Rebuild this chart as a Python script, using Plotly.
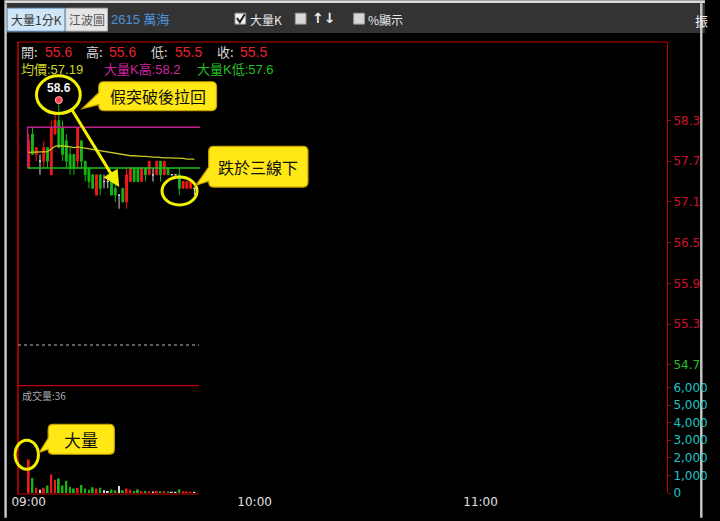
import plotly.graph_objects as go

# ---------------- data ----------------
minutes = list(range(45))  # minutes after 09:00
opens  = [57.6, 58.1, 57.8, 57.7, 57.7, 57.9, 57.5, 58.1, 58.3, 58.2,
          58.0, 57.8, 57.8, 57.7, 58.0, 57.7, 57.6, 57.5, 57.2, 57.5,
          57.4, 57.4, 57.4, 57.3, 57.2, 57.3, 57.1, 57.4, 57.6, 57.6,
          57.4, 57.6, 57.5, 57.5, 57.5, 57.7, 57.5, 57.6, 57.5, 57.5,
          57.5, 57.3, 57.3, 57.3, 57.3]
highs  = [58.1, 58.2, 57.9, 57.8, 58.0, 57.9, 58.3, 58.4, 58.6, 58.3,
          58.1, 57.9, 57.8, 58.2, 58.0, 57.7, 57.6, 57.5, 57.5, 57.5,
          57.5, 57.5, 57.4, 57.4, 57.2, 57.3, 57.6, 57.6, 57.6, 57.6,
          57.6, 57.6, 57.7, 57.6, 57.7, 57.7, 57.7, 57.6, 57.5, 57.5,
          57.6, 57.4, 57.4, 57.4, 57.3]
lows   = [57.6, 57.8, 57.7, 57.5, 57.6, 57.6, 57.5, 58.1, 57.9, 57.7,
          57.6, 57.5, 57.5, 57.6, 57.6, 57.4, 57.3, 57.3, 57.2, 57.2,
          57.3, 57.3, 57.2, 57.1, 57.0, 57.1, 57.0, 57.4, 57.4, 57.4,
          57.4, 57.4, 57.5, 57.4, 57.5, 57.4, 57.5, 57.5, 57.5, 57.5,
          57.2, 57.3, 57.3, 57.3, 57.2]
closes = [58.0, 57.8, 57.9, 57.7, 57.9, 57.7, 58.2, 58.3, 57.9, 57.8,
          57.7, 57.6, 57.6, 58.2, 57.7, 57.5, 57.4, 57.3, 57.5, 57.3,
          57.4, 57.4, 57.2, 57.2, 57.2, 57.1, 57.5, 57.6, 57.4, 57.4,
          57.6, 57.5, 57.7, 57.5, 57.7, 57.5, 57.7, 57.5, 57.5, 57.5,
          57.3, 57.4, 57.4, 57.4, 57.3]
volumes = [1900, 850, 300, 180, 300, 420, 1050, 750, 830, 420,
           700, 350, 250, 300, 450, 250, 180, 320, 250, 300,
           150, 120, 200, 150, 400, 150, 250, 180, 120, 200,
           100, 120, 100, 80, 130, 100, 120, 80, 60, 50,
           220, 100, 80, 60, 40]
avg_price = [57.83, 57.83, 57.83, 57.83, 57.84, 57.84, 57.88, 57.92, 57.93, 57.93,
             57.92, 57.91, 57.90, 57.91, 57.90, 57.89, 57.88, 57.87, 57.86, 57.85,
             57.84, 57.83, 57.82, 57.81, 57.80, 57.79, 57.79, 57.78, 57.78, 57.77,
             57.77, 57.77, 57.76, 57.76, 57.76, 57.75, 57.75, 57.75, 57.75, 57.74,
             57.74, 57.74, 57.73, 57.73, 57.73]
big_k_high = 58.2
big_k_low = 57.6
band_x = [-0.3, 45.5]
peak_minute, peak_price = 8, 58.6
price_ticks = [54.7, 55.3, 55.9, 56.5, 57.1, 57.7, 58.3]
vol_ticks = [0, 1000, 2000, 3000, 4000, 5000, 6000]
time_ticks = [0, 60, 120]
time_labels = ["09:00", "10:00", "11:00"]

# ---------------- geometry helpers ----------------
W, H = 720, 521
L, R, T, B = 14, 681, 42, 496


def fx(x):
    return (x - L) / (R - L)


def fy(y):
    return (B - y) / (B - T)


RED_UP = "#f01a1a"
GREEN_DN = "#16b416"
WHITE_EQ = "#d8d8d8"
FRAME = "#c40000"
YEL = "#f2f200"
CJK = "Noto Sans CJK TC"
LAT = "Liberation Sans, Noto Sans CJK TC"


def kind(o, c):
    return "R" if c > o else ("G" if c < o else "W")


kinds = [kind(o, c) for o, c in zip(opens, closes)]
col_of = {"R": RED_UP, "G": GREEN_DN, "W": WHITE_EQ}

fig = go.Figure()

# candles grouped by colour
for k in ["R", "G", "W"]:
    idx = [i for i in range(len(minutes)) if kinds[i] == k]
    c = col_of[k]
    fig.add_trace(go.Candlestick(
        x=[minutes[i] for i in idx],
        open=[opens[i] for i in idx], high=[highs[i] for i in idx],
        low=[lows[i] for i in idx], close=[closes[i] for i in idx],
        increasing=dict(line=dict(color=c, width=1), fillcolor=c),
        decreasing=dict(line=dict(color=c, width=1), fillcolor=c),
        showlegend=False, hoverinfo="skip", xaxis="x", yaxis="y"))

# average price line
fig.add_trace(go.Scatter(x=minutes, y=avg_price, mode="lines",
                         line=dict(color="#c8c820", width=1.3),
                         showlegend=False, hoverinfo="skip"))
# big-K band
fig.add_trace(go.Scatter(x=[band_x[0], band_x[0], band_x[1]],
                         y=[big_k_low, big_k_high, big_k_high], mode="lines",
                         line=dict(color="#c0208c", width=1.3),
                         showlegend=False, hoverinfo="skip"))
fig.add_trace(go.Scatter(x=band_x, y=[big_k_low, big_k_low], mode="lines",
                         line=dict(color="#18c018", width=1.6),
                         showlegend=False, hoverinfo="skip"))
# peak marker
fig.add_trace(go.Scatter(x=[peak_minute], y=[peak_price], mode="markers",
                         marker=dict(color="#ff3c55", size=7,
                                     line=dict(color="#ffb0b8", width=1)),
                         showlegend=False, hoverinfo="skip"))

# volume
fig.add_trace(go.Bar(x=minutes, y=volumes, width=0.5,
                     marker=dict(color=[col_of[k] for k in kinds], line=dict(width=0)),
                     yaxis="y2", showlegend=False, hoverinfo="skip"))

price_text = [("<span style='color:#22c022'>%.1f</span>" % v) if v == 54.7 else "%.1f" % v
              for v in price_ticks]

fig.update_layout(
    width=W, height=H, autosize=False,
    margin=dict(l=L, r=W - R, t=T, b=H - B, pad=0),
    paper_bgcolor="black", plot_bgcolor="black",
    font=dict(family=CJK, color="#dddddd"),
    showlegend=False,
    xaxis=dict(range=[-2.84, 169.5], domain=[0, 1], anchor="y2",
               rangeslider=dict(visible=False), showgrid=False, zeroline=False,
               showline=False, tickvals=time_ticks, ticktext=time_labels,
               ticks="", tickfont=dict(family="DejaVu Sans", size=12, color="#e0e0e0")),
    yaxis=dict(domain=[fy(388), 1], range=[54.392, 59.456], side="right",
               anchor="x", showgrid=False, zeroline=False, showline=True,
               linecolor=FRAME, linewidth=1, tickvals=price_ticks, ticktext=price_text,
               ticks="outside", ticklen=3, tickcolor="#7a2000",
               tickfont=dict(family="DejaVu Sans", size=12, color="#d0102a")),
    yaxis2=dict(domain=[0, fy(388)], range=[0, 6100], side="right",
                anchor="x", showgrid=False, zeroline=False, showline=True,
                linecolor=FRAME, linewidth=1, tickvals=vol_ticks, tickformat=",d",
                ticks="outside", ticklen=3, tickcolor="#7a2000",
                tickfont=dict(family="DejaVu Sans", size=12, color="#1ec4c4")),
)

shapes = []


def rect(x0, y0, x1, y1, fill, line=None, lw=0):
    shapes.append(dict(type="rect", xref="paper", yref="paper",
                       x0=fx(x0), x1=fx(x1), y0=fy(y1), y1=fy(y0),
                       fillcolor=fill, line=dict(color=line or fill, width=lw),
                       layer="below"))


def seg(x0, y0, x1, y1, color, w=1, dash=None):
    d = dict(color=color, width=w)
    if dash:
        d["dash"] = dash
    shapes.append(dict(type="line", xref="paper", yref="paper",
                       x0=fx(x0), x1=fx(x1), y0=fy(y0), y1=fy(y1), line=d, layer="above"))


def ellipse(x0, y0, x1, y1):
    shapes.append(dict(type="circle", xref="paper", yref="paper",
                       x0=fx(x0), x1=fx(x1), y0=fy(y1), y1=fy(y0),
                       line=dict(color=YEL, width=3), layer="above"))


def P(x, y):
    return "%.5f,%.5f" % (fx(x), fy(y))


def callout(x0, y0, x1, y1, r, ya, yb, tx, ty):
    path = ("M %s L %s Q %s %s L %s Q %s %s L %s Q %s %s L %s L %s L %s L %s Q %s %s Z" % (
        P(x0 + r, y0), P(x1 - r, y0), P(x1, y0), P(x1, y0 + r),
        P(x1, y1 - r), P(x1, y1), P(x1 - r, y1),
        P(x0 + r, y1), P(x0, y1), P(x0, y1 - r),
        P(x0, yb), P(tx, ty), P(x0, ya),
        P(x0, y0 + r), P(x0, y0), P(x0 + r, y0)))
    shapes.append(dict(type="path", xref="paper", yref="paper", path=path,
                       fillcolor="#ffe814", line=dict(color="#c8a400", width=1.2),
                       layer="above"))


# window chrome
rect(0, 0, 720, 3, "#d8d8d8")
rect(0, 3, 720, 33, "#333333")
rect(0, 3, 2.5, 521, "#c8c8c8")
rect(715, 3, 717.5, 521, "#c8c8c8")
rect(3, 8, 62, 31, "#cfe6f8", "#78acdc", 1)
rect(63, 8, 106, 31, "#e6e6e6", "#b0b0b0", 1)
rect(237, 13, 248, 24, "#f4f4f4", "#999999", 1)
shapes.append(dict(type="path", xref="paper", yref="paper",
                   path="M %s L %s L %s" % (P(239, 18), P(242, 22), P(247, 14)),
                   line=dict(color="#222222", width=2)))
rect(299, 13, 310, 24, "#d8d8d8", "#999999", 1)
rect(359, 13, 370, 24, "#d8d8d8", "#999999", 1)

# panel frame
seg(L, 42, R, 42, FRAME, 1.2)
seg(L, 42, L, 497, FRAME, 1.6)
seg(L, 388, 200, 388, FRAME, 1.2)
seg(L, 497, 200, 497, FRAME, 1.2)
seg(L, 347, 200, 347, "#bbbbbb", 1, "dot")

# marks / callouts
ellipse(33, 76, 78, 114)
ellipse(162, 178, 198, 206)
ellipse(11, 443, 35, 472)
callout(97, 82, 218, 111, 5, 93, 105, 80, 109)
callout(210, 147, 312, 188, 5, 168, 182, 197, 186)
callout(45, 427, 113, 457, 5, 441, 452, 36, 455)

fig.update_layout(shapes=shapes)

ann = []


def txt(x, y, s, size, color, family=LAT, anchor="left", bold=False):
    ann.append(dict(xref="paper", yref="paper", x=fx(x), y=fy(y), text=("<b>%s</b>" % s) if bold else s,
                    showarrow=False, xanchor=anchor, yanchor="middle",
                    font=dict(family=family, size=size, color=color), borderpad=0))


# toolbar text
txt(32.5, 19.5, "大量1分K", 12, "#333333", CJK, "center")
txt(84.5, 19.5, "江波圖", 12, "#555555", CJK, "center")
txt(109, 19, "2615 萬海", 13, "#4a94dc")
txt(251, 19, "大量K", 12, "#e8e8e8", CJK)
txt(315, 18, "<b>↑↓</b>", 14, "#f0f0f0", "DejaVu Sans")
txt(373, 19, "%顯示", 12, "#e8e8e8", CJK)
txt(709, 20, "振", 13, "#f0f0f0", CJK)

# header lines
for lab, lx, val, vx in [("開:", 16, "55.6", 41), ("高:", 83, "55.6", 107),
                         ("低:", 150, "55.5", 174), ("收:", 217, "55.5", 241)]:
    txt(lx, 52, lab, 13, "#d8d8d8", CJK)
    txt(vx, 52, val, 14, "#e8202e")
txt(16, 70, "均價:57.19", 13, "#d4d420")
txt(101, 70, "大量K高:58.2", 13, "#d024a0")
txt(197, 70, "大量K低:57.6", 13, "#22c022")
txt(17, 398, "成交量:36", 10, "#a8a8a8", CJK)

# callout texts
txt(157.5, 96.5, "假突破後拉回", 16, "#111111", CJK, "center")
txt(261, 167.5, "跌於三線下", 16, "#111111", CJK, "center")
txt(79, 442, "大量", 17, "#111111", CJK, "center")

# peak label
ann.append(dict(xref="x", yref="y", x=peak_minute, y=peak_price, yshift=12,
                text="<b>58.6</b>", showarrow=False, xanchor="center", yanchor="middle",
                font=dict(family="Liberation Sans", size=12, color="#f4f4f4")))

# arrow
ann.append(dict(xref="paper", yref="paper", x=fx(118), y=fy(188), ax=-49, ay=-80,
                text="", showarrow=True, arrowhead=2, arrowsize=1.1, arrowwidth=3,
                arrowcolor=YEL, standoff=0))

fig.update_layout(annotations=ann)

fig.write_html(
    "out.html",
    config={"displayModeBar": False},
    post_script="document.body.style.margin='0';document.body.style.overflow='hidden';"
                "document.documentElement.style.overflow='hidden';",
)
